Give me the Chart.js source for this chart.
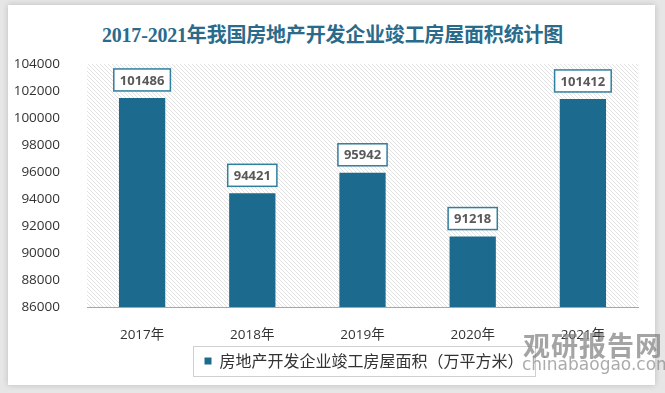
<!DOCTYPE html>
<html lang="zh">
<head>
  <meta charset="UTF-8">
  <title>竣工房屋面积</title>
  <script src="https://cdn.jsdelivr.net/npm/chart.js"></script>
  <style>
    body { margin: 0; background: #e6e6e6; width: 665px; height: 393px; overflow: hidden; font-family: "Noto Sans CJK SC", sans-serif; }
    .card { position: absolute; left: 8px; top: 5px; width: 647px; height: 380px; background: #fff; box-shadow: 0 0 6px rgba(0,0,0,0.18); }
    .title { position: absolute; left: 0; top: 19px; width: 665px; text-align: center; font: bold 20px "Liberation Serif", "Noto Sans CJK SC", serif; color: #2a6a8a; letter-spacing: -0.2px; }
    .chart-box { position: absolute; left: 0; top: 0; width: 665px; height: 393px; }
    .wm1 { position: absolute; left: 523px; top: 325px; font: bold 27px "Noto Sans CJK SC", sans-serif; color: rgba(125,125,125,0.7); letter-spacing: 1px; }
    .wm2 { position: absolute; left: 522px; top: 354px; font: 17px "DejaVu Sans", sans-serif; color: rgba(135,135,135,0.7); }
  </style>
</head>
<body>
  <div class="card"></div>
  <div class="title">2017-2021年我国房地产开发企业竣工房屋面积统计图</div>
  <div class="chart-box"><canvas id="myChart" width="665" height="393"></canvas></div>
  <div class="wm1">观研报告网</div>
  <div class="wm2">chinabaogao.com</div>

<script>
  const anos = ['2017年', '2018年', '2019年', '2020年', '2021年'];
  const area = [101486, 94421, 95942, 91218, 101412];
  const legenda = '房地产开发企业竣工房屋面积（万平方米）';

  const ctx = document.getElementById('myChart');

  // diagonal hatch behind the plot area
  function hachura() {
    const c = document.createElement('canvas');
    c.width = 4; c.height = 4;
    const g = c.getContext('2d');
    g.fillStyle = '#fff';
    g.fillRect(0, 0, 4, 4);
    g.strokeStyle = '#e2e2e2';
    g.lineWidth = 1;
    g.beginPath();
    g.moveTo(0, 0); g.lineTo(4, 4);
    g.moveTo(-2, 2); g.lineTo(2, 6);
    g.moveTo(2, -2); g.lineTo(6, 2);
    g.stroke();
    return g.createPattern(c, 'repeat');
  }

  const deslocLegenda = 45;

  const fundo = {
    id: 'fundo',
    beforeDraw(chart) {
      // push the legend a bit to the right, like the original
      chart.legend.left += deslocLegenda;
      chart.legend.right += deslocLegenda;
      const a = chart.chartArea;
      const c = chart.ctx;
      c.save();
      c.fillStyle = hachura();
      c.fillRect(a.left, a.top, a.right - a.left, a.bottom - a.top);
      c.restore();
    }
  };

  const rotulos = {
    id: 'rotulos',
    afterDatasetsDraw(chart) {
      const c = chart.ctx;
      const meta = chart.getDatasetMeta(0);
      c.save();
      c.font = 'bold 13px "Open Sans", sans-serif';
      c.textAlign = 'center';
      c.textBaseline = 'middle';
      meta.data.forEach((bar, i) => {
        const txt = String(area[i]);
        const w = c.measureText(txt).width + 12;
        const h = 22;
        const y = bar.y - 7 - h;
        c.fillStyle = '#fff';
        c.fillRect(bar.x - w / 2, y, w, h);
        c.strokeStyle = '#2f7fa0';
        c.lineWidth = 1.5;
        c.strokeRect(bar.x - w / 2, y, w, h);
        c.fillStyle = '#595959';
        c.fillText(txt, bar.x, y + h / 2 + 1);
      });
      // legend frame
      const lg = chart.legend;
      c.strokeStyle = '#d0d0d0';
      c.lineWidth = 1;
      c.strokeRect(193.5, lg.top + 1.5, 342, 30);
      c.restore();
    }
  };

  new Chart(ctx, {
    type: 'bar',
    data: {
      labels: anos,
      datasets: [{
        label: legenda,
        data: area,
        backgroundColor: '#1c6a8e',
        borderWidth: 0,
        barPercentage: 0.84,
        categoryPercentage: 0.5
      }]
    },
    options: {
      responsive: false,
      animation: false,
      layout: { padding: { left: 0, right: 27, top: 64, bottom: 14 } },
      plugins: {
        title: { display: false },
        tooltip: { enabled: false },
        legend: {
          position: 'bottom',
          labels: {
            boxWidth: 7, boxHeight: 7, padding: 8,
            color: '#333',
            font: { size: 16, family: '"Noto Sans CJK SC", sans-serif' }
          }
        }
      },
      scales: {
        y: {
          min: 86000,
          max: 104000,
          ticks: {
            stepSize: 2000, color: '#333', padding: 19,
            font: { size: 13.5, family: '"Open Sans", sans-serif' },
            callback: v => String(v)
          },
          grid: { display: false },
          border: { display: false },
          afterFit(s) { s.width = 87; }
        },
        x: {
          ticks: { color: '#333', padding: 12, font: { size: 13.5, family: '"Open Sans", "Noto Sans CJK SC", sans-serif' } },
          grid: { display: false },
          border: { display: true, color: '#a6a6a6', width: 1 },
          afterFit(s) { s.height = 38; }
        }
      }
    },
    plugins: [fundo, rotulos]
  });
</script>
</body>
</html>
